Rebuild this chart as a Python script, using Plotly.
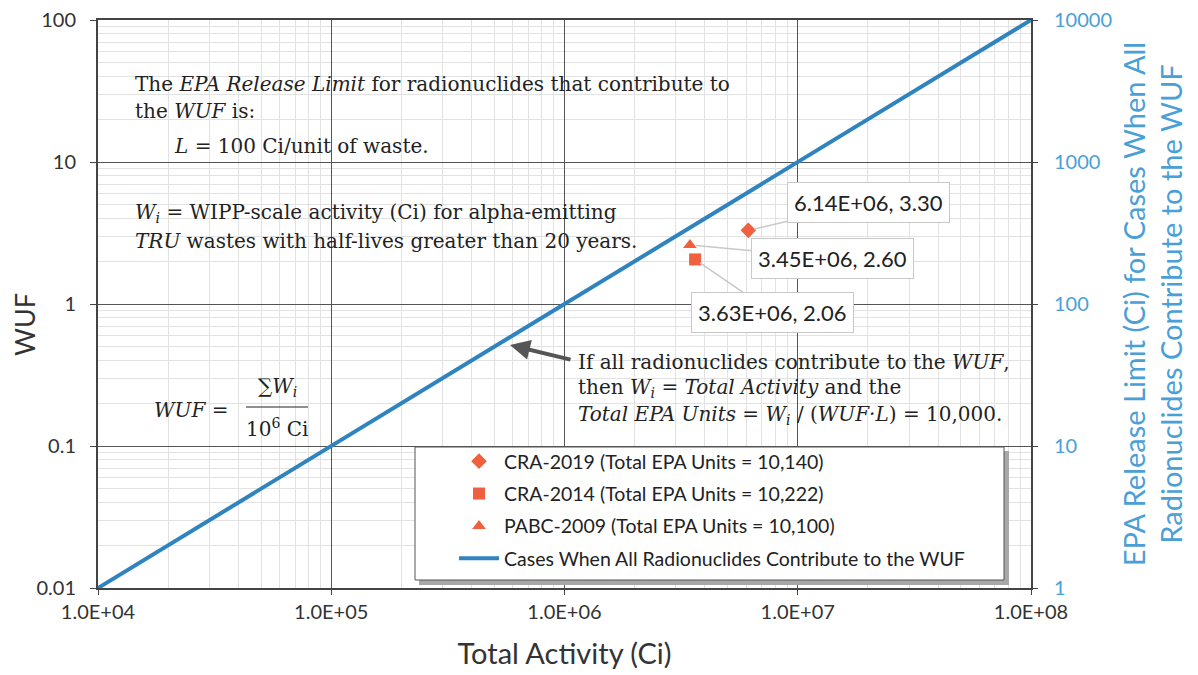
import numpy as np
import plotly.graph_objects as go

# ---- data ----
line_x = [1.0e4, 1.0e8]
line_wuf = [0.01, 100]
release_limit = [1, 10000]

series_names = ["CRA-2019 (Total EPA Units = 10,140)",
                "CRA-2014 (Total EPA Units = 10,222)",
                "PABC-2009 (Total EPA Units = 10,100)"]
series_activity = [6.14e6, 3.63e6, 3.45e6]
series_wuf = [3.30, 2.06, 2.60]
series_symbols = ["diamond", "square", "triangle-up"]
callout_labels = ["6.14E+06, 3.30", "3.63E+06, 2.06", "3.45E+06, 2.60"]
callout_offsets = [(120, -28), (77, 53), (143, 13)]

x_tickvals = [1e4, 1e5, 1e6, 1e7, 1e8]
x_ticktext = ["1.0E+04", "1.0E+05", "1.0E+06", "1.0E+07", "1.0E+08"]
y_tickvals = [0.01, 0.1, 1, 10, 100]
y_ticktext = ["0.01", "0.1", "1", "10", "100"]
y2_tickvals = [1, 10, 100, 1000, 10000]
y2_ticktext = ["1", "10", "100", "1000", "10000"]

LINE_BLUE = "#2f83bf"
AXIS_BLUE = "#4aa0d6"
MARK = "#f0603f"
SANS = "Lato"
SERIF = "DejaVu Serif"

fig = go.Figure()

for i, name in enumerate(series_names):
    fig.add_trace(go.Scatter(
        x=[series_activity[i]], y=[series_wuf[i]], mode="markers", name=name,
        marker=dict(symbol=series_symbols[i], color=MARK, size=12),
        legendgroup=f"g{i}"))

fig.add_trace(go.Scatter(
    x=line_x, y=line_wuf, mode="lines",
    name="Cases When All Radionuclides Contribute to the WUF",
    line=dict(color=LINE_BLUE, width=4), legendgroup="g3"))

fig.add_trace(go.Scatter(
    x=line_x, y=release_limit, mode="lines", yaxis="y2", showlegend=False,
    line=dict(color="rgba(0,0,0,0)", width=0), hoverinfo="skip"))

# callouts
for i in range(3):
    fig.add_annotation(
        x=np.log10(series_activity[i]), y=np.log10(series_wuf[i]),
        xref="x", yref="y", text=callout_labels[i], showarrow=True,
        ax=callout_offsets[i][0], ay=callout_offsets[i][1],
        arrowhead=0, arrowwidth=1.5, arrowcolor="#c8c8c8", standoff=6,
        bgcolor="white", bordercolor="#c8c8c8", borderwidth=1, borderpad=6,
        font=dict(family=SANS, size=22, color="#222"))

def px2paper(px, py):
    return (px - 98) / 933.0, (588 - py) / 568.0

serif_font = dict(family=SERIF, size=20, color="#222")
texts = [
    (133, 84, "The <i>EPA Release Limit</i> for radionuclides that contribute to"),
    (133, 111, "the <i>WUF</i> is:"),
    (172, 146, "<i>L</i> = 100 Ci/unit of waste."),
    (133, 213, "<i>W<sub>i</sub></i> = WIPP-scale activity (Ci) for alpha-emitting"),
    (133, 241, "<i>TRU</i> wastes with half-lives greater than 20 years."),
    (576, 362, "If all radionuclides contribute to the <i>WUF</i>,"),
    (576, 388, "then <i>W<sub>i</sub></i> = <i>Total Activity</i> and the"),
    (576, 415, "<i>Total EPA Units</i> = <i>W<sub>i</sub></i> / (<i>WUF·L</i>) = 10,000."),
    (152, 410, "<i>WUF</i> ="),
]
for px, py, t in texts:
    xp, yp = px2paper(px, py)
    fig.add_annotation(x=xp, y=yp, xref="paper", yref="paper", text=t,
                       showarrow=False, xanchor="left", yanchor="middle",
                       font=serif_font)

for px, py, t in [(277, 387, "∑<i>W<sub>i</sub></i>"), (277, 428, "10<sup>6</sup> Ci")]:
    xp, yp = px2paper(px, py)
    fig.add_annotation(x=xp, y=yp, xref="paper", yref="paper", text=t,
                       showarrow=False, xanchor="center", yanchor="middle",
                       font=serif_font)
x0, y0 = px2paper(246, 407)
x1, _ = px2paper(308, 407)
fig.add_shape(type="line", xref="paper", yref="paper", x0=x0, x1=x1, y0=y0, y1=y0,
              line=dict(color="#222", width=1.2))

# arrow pointing to line
ax_, ay_ = px2paper(510, 345)
fig.add_annotation(x=ax_, y=ay_, xref="paper", yref="paper", text="",
                   showarrow=True, ax=62, ay=15, arrowhead=2, arrowsize=1,
                   arrowwidth=4, arrowcolor="#555")

# left axis title (as rotated text)
tx, ty = px2paper(24, 325)
fig.add_annotation(x=tx, y=ty, xref="paper", yref="paper", text="WUF",
                   textangle=-90, showarrow=False, xanchor="center", yanchor="middle",
                   font=dict(family=SANS, size=27, color="#333"))

# legend box + shadow (drawn as shapes under the legend)
sx0, sy0 = px2paper(419, 451)
sx1, sy1 = px2paper(1009, 585)
fig.add_shape(type="rect", xref="paper", yref="paper", x0=sx0, x1=sx1, y0=sy1, y1=sy0,
              line=dict(width=0), fillcolor="#a8a8a8", layer="above")
bx0, by0 = px2paper(415, 447)
bx1, by1 = px2paper(1004, 580)
fig.add_shape(type="rect", xref="paper", yref="paper", x0=bx0, x1=bx1, y0=by1, y1=by0,
              line=dict(width=1, color="#555"), fillcolor="white", layer="above")

legx, legy = px2paper(454, 442)

fig.update_layout(
    width=1190, height=667,
    margin=dict(l=90, r=167, t=12, b=87),
    paper_bgcolor="white", plot_bgcolor="white",
    showlegend=True,
    legend=dict(x=legx, y=legy, xanchor="left", yanchor="top",
                bgcolor="rgba(0,0,0,0)", borderwidth=0,
                font=dict(family=SANS, size=19.5, color="#222"),
                traceorder="grouped", tracegroupgap=4, itemwidth=40),
    xaxis=dict(type="log", range=[4, 8], tickvals=x_tickvals, ticktext=x_ticktext,
               showgrid=True, gridcolor="#555", gridwidth=1,
               minor=dict(showgrid=True, gridcolor="#e2e2e2", dtick="D1", ticks=""),
               showline=True, linecolor="#444", linewidth=2, mirror=True,
               ticks="outside", ticklen=5, tickcolor="#444", automargin=False,
               ticklabeloverflow="allow",
               tickfont=dict(family=SANS, size=20, color="#333"),
               title=dict(text="Total Activity (Ci)", standoff=22,
                          font=dict(family=SANS, size=29, color="#333")),
               zeroline=False),
    yaxis=dict(type="log", range=[-2, 2], tickvals=y_tickvals, ticktext=y_ticktext,
               showgrid=True, gridcolor="#555", gridwidth=1,
               minor=dict(showgrid=True, gridcolor="#e2e2e2", dtick="D1", ticks=""),
               showline=True, linecolor="#444", linewidth=2, mirror=True,
               ticks="outside", ticklen=6, tickcolor="#444", automargin=False,
               ticklabelstandoff=10, ticklabeloverflow="allow",
               tickfont=dict(family=SANS, size=20, color="#333"),
               zeroline=False),
    yaxis2=dict(type="log", range=[0, 4], overlaying="y", side="right",
                tickvals=y2_tickvals, ticktext=y2_ticktext, showgrid=False,
                ticks="outside", ticklen=6, tickcolor="#444", automargin=False,
                ticklabelstandoff=12, ticklabeloverflow="allow",
                tickfont=dict(family=SANS, size=20, color=AXIS_BLUE),
                title=dict(text="EPA Release Limit (Ci) for Cases When All<br>Radionuclides Contribute to the WUF",
                           standoff=13, font=dict(family=SANS, size=29, color=AXIS_BLUE)),
                zeroline=False),
)

fig.write_html("out.html")
